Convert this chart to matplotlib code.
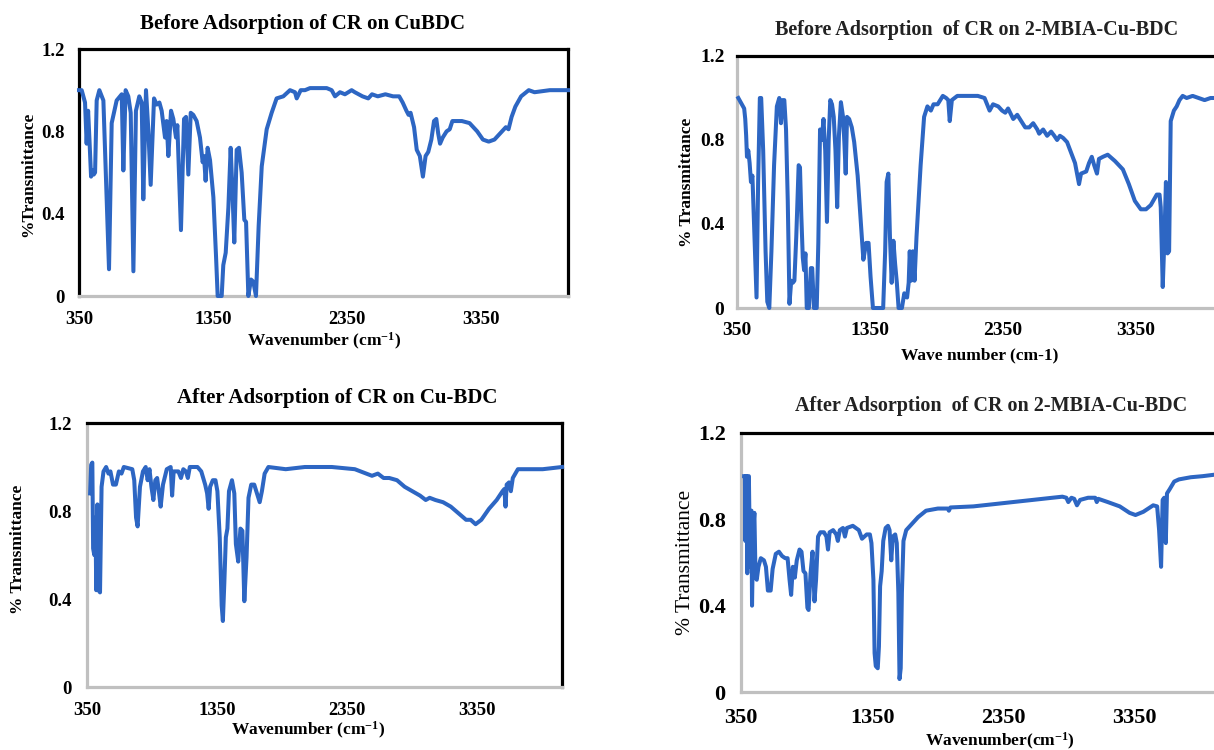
import numpy as np
import matplotlib.pyplot as plt

plt.rcParams['font.family'] = 'Liberation Serif'
plt.rcParams['font.weight'] = 'bold'
plt.rcParams['mathtext.fontset'] = 'custom'
plt.rcParams['mathtext.rm'] = 'Liberation Serif:bold'
plt.rcParams['mathtext.default'] = 'rm'

W, H = 1214, 750
line_blue = '#2d66c3'
frame_grey = '#c0c0c0'

x_ticks = [350, 1350, 2350, 3350]
y_ticks = [0, 0.4, 0.8, 1.2]
y_ticklabels = ['0', '0.4', '0.8', '1.2']

# (wavenumber, transmittance)
before_cubdc = [
    (350, 1.00), (370, 1.00), (395, 0.94), (407, 0.74), (418, 0.90), (428, 0.76),
    (440, 0.58), (450, 0.61), (460, 0.59), (470, 0.60), (482, 0.95), (502, 1.00),
    (532, 0.95), (574, 0.13), (594, 0.84), (631, 0.95), (669, 0.98), (681, 0.61),
    (698, 1.00), (718, 0.97), (736, 0.89), (756, 0.12), (775, 0.90), (800, 0.97),
    (818, 0.94), (830, 0.47), (850, 1.00), (868, 0.80), (885, 0.54), (910, 0.96),
    (930, 0.93), (950, 0.94), (967, 0.90), (992, 0.77), (1004, 0.85), (1017, 0.68),
    (1037, 0.90), (1054, 0.86), (1074, 0.77), (1084, 0.83), (1111, 0.32), (1134, 0.86),
    (1149, 0.87), (1166, 0.59), (1184, 0.89), (1203, 0.88), (1228, 0.85), (1253, 0.77),
    (1273, 0.65), (1283, 0.68), (1295, 0.56), (1310, 0.72), (1328, 0.66), (1353, 0.48),
    (1373, 0.19), (1385, 0.00), (1415, 0.00), (1427, 0.15), (1445, 0.21), (1465, 0.43),
    (1482, 0.72), (1494, 0.53), (1509, 0.26), (1527, 0.71), (1544, 0.72), (1564, 0.60),
    (1584, 0.37), (1597, 0.36), (1614, 0.00), (1634, 0.08), (1651, 0.07), (1671, 0.00),
    (1691, 0.34), (1714, 0.63), (1751, 0.81), (1788, 0.89), (1825, 0.96), (1875, 0.97),
    (1925, 1.00), (1962, 0.99), (1975, 0.96), (2005, 1.00), (2037, 1.00), (2074, 1.01),
    (2199, 1.01), (2236, 1.00), (2261, 0.97), (2298, 0.99), (2335, 0.98), (2385, 1.00),
    (2409, 0.99), (2466, 0.97), (2509, 0.96), (2537, 0.98), (2580, 0.97), (2637, 0.98),
    (2694, 0.97), (2740, 0.97), (2766, 0.94), (2794, 0.90), (2810, 0.88), (2825, 0.89),
    (2851, 0.82), (2871, 0.71), (2894, 0.68), (2917, 0.58), (2937, 0.68), (2957, 0.70),
    (2980, 0.76), (3000, 0.85), (3017, 0.86), (3031, 0.79), (3045, 0.74), (3065, 0.77),
    (3094, 0.80), (3117, 0.81), (3137, 0.85), (3165, 0.85), (3208, 0.85), (3265, 0.84),
    (3322, 0.80), (3365, 0.76), (3408, 0.75), (3451, 0.76), (3493, 0.79), (3536, 0.82),
    (3556, 0.81), (3579, 0.87), (3607, 0.92), (3650, 0.97), (3707, 1.00), (3750, 0.99),
    (3864, 1.00), (4000, 1.00),
]

before_mbia = [
    (360, 1.00), (404, 0.95), (412, 0.90), (419, 0.82), (425, 0.72), (435, 0.75),
    (445, 0.69), (455, 0.60), (466, 0.63), (476, 0.44), (486, 0.24), (497, 0.05),
    (509, 0.60), (522, 1.00), (532, 1.00), (547, 0.75), (565, 0.27), (578, 0.03),
    (593, 0.00), (609, 0.27), (629, 0.68), (650, 0.96), (668, 1.00), (681, 0.88),
    (693, 0.99), (706, 0.99), (719, 0.85), (732, 0.51), (745, 0.02), (758, 0.13),
    (770, 0.12), (782, 0.13), (796, 0.34), (814, 0.68), (824, 0.67), (834, 0.44),
    (845, 0.24), (855, 0.18), (865, 0.26), (875, 0.00), (891, 0.00), (906, 0.19),
    (916, 0.19), (929, 0.00), (950, 0.00), (962, 0.31), (975, 0.85), (988, 0.80),
    (1001, 0.90), (1014, 0.75), (1027, 0.41), (1040, 0.80), (1052, 0.99), (1065, 0.97),
    (1078, 0.91), (1091, 0.75), (1104, 0.48), (1117, 0.82), (1132, 0.98), (1148, 0.91),
    (1158, 0.79), (1168, 0.64), (1178, 0.91), (1194, 0.90), (1214, 0.86), (1232, 0.79),
    (1258, 0.63), (1283, 0.40), (1301, 0.23), (1322, 0.31), (1340, 0.31), (1355, 0.15),
    (1373, 0.00), (1450, 0.00), (1465, 0.27), (1476, 0.60), (1489, 0.64), (1501, 0.34),
    (1514, 0.12), (1527, 0.32), (1540, 0.21), (1553, 0.12), (1566, 0.00), (1591, 0.00),
    (1609, 0.07), (1630, 0.05), (1642, 0.12), (1650, 0.27), (1660, 0.13), (1673, 0.27),
    (1686, 0.13), (1701, 0.34), (1732, 0.68), (1758, 0.91), (1783, 0.96), (1809, 0.94),
    (1829, 0.97), (1860, 0.97), (1899, 1.01), (1924, 1.00), (1940, 0.99), (1951, 0.89),
    (1967, 0.99), (2008, 1.01), (2162, 1.01), (2213, 1.00), (2251, 0.94), (2277, 0.97),
    (2316, 0.96), (2345, 0.94), (2369, 0.93), (2390, 0.95), (2429, 0.90), (2459, 0.92),
    (2489, 0.89), (2519, 0.86), (2549, 0.86), (2579, 0.88), (2610, 0.85), (2624, 0.83),
    (2654, 0.85), (2684, 0.82), (2714, 0.84), (2738, 0.82), (2759, 0.80), (2780, 0.82),
    (2804, 0.81), (2834, 0.79), (2864, 0.74), (2894, 0.69), (2924, 0.59), (2939, 0.64),
    (2978, 0.65), (2999, 0.69), (3020, 0.72), (3038, 0.68), (3059, 0.64), (3074, 0.71),
    (3104, 0.72), (3140, 0.73), (3194, 0.70), (3254, 0.66), (3299, 0.59), (3344, 0.51),
    (3389, 0.47), (3428, 0.47), (3464, 0.49), (3509, 0.54), (3530, 0.54), (3539, 0.48),
    (3554, 0.10), (3566, 0.32), (3578, 0.60), (3590, 0.26), (3602, 0.27), (3614, 0.89),
    (3638, 0.94), (3659, 0.96), (3680, 0.99), (3704, 1.01), (3734, 1.00), (3779, 1.01),
    (3824, 1.00), (3869, 0.99), (3914, 1.00), (4000, 1.00),
]

after_cubdc = [
    (374, 0.88), (382, 1.01), (391, 1.02), (397, 0.63), (406, 0.60), (415, 0.77),
    (421, 0.44), (430, 0.83), (438, 0.44), (450, 0.43), (462, 0.91), (477, 0.98),
    (497, 1.00), (515, 0.97), (530, 0.98), (550, 0.92), (572, 0.92), (595, 0.98),
    (615, 0.97), (633, 1.00), (698, 0.99), (713, 0.94), (727, 0.77), (739, 0.73),
    (757, 0.91), (780, 0.98), (801, 1.00), (816, 0.94), (830, 0.99), (845, 0.91),
    (860, 0.85), (875, 0.94), (889, 0.95), (904, 0.88), (916, 0.82), (934, 0.92),
    (963, 0.99), (993, 1.00), (1004, 0.87), (1016, 0.98), (1052, 0.98), (1072, 0.95),
    (1090, 0.99), (1110, 0.98), (1125, 0.95), (1140, 1.00), (1199, 1.00), (1228, 0.98),
    (1258, 0.92), (1273, 0.88), (1285, 0.81), (1296, 0.91), (1317, 0.94), (1337, 0.94),
    (1352, 0.89), (1370, 0.68), (1385, 0.37), (1394, 0.30), (1405, 0.47), (1417, 0.68),
    (1429, 0.72), (1441, 0.89), (1464, 0.94), (1482, 0.88), (1494, 0.65), (1512, 0.57),
    (1529, 0.72), (1544, 0.71), (1559, 0.39), (1576, 0.59), (1591, 0.86), (1612, 0.92),
    (1635, 0.92), (1656, 0.88), (1677, 0.84), (1694, 0.89), (1715, 0.97), (1744, 1.00),
    (1877, 0.99), (2024, 1.00), (2231, 1.00), (2408, 0.99), (2496, 0.97), (2540, 0.96),
    (2585, 0.97), (2629, 0.95), (2673, 0.95), (2732, 0.94), (2791, 0.91), (2850, 0.89),
    (2909, 0.87), (2953, 0.85), (2983, 0.86), (3027, 0.85), (3086, 0.84), (3145, 0.82),
    (3204, 0.79), (3263, 0.76), (3298, 0.76), (3336, 0.74), (3380, 0.76), (3439, 0.81),
    (3498, 0.85), (3543, 0.89), (3557, 0.90), (3566, 0.82), (3575, 0.92), (3593, 0.93),
    (3607, 0.89), (3622, 0.95), (3661, 0.99), (3734, 0.99), (3852, 0.99), (4000, 1.00),
]

after_mbia = [
    (374, 1.00), (380, 1.00), (383, 0.70), (386, 1.00), (392, 1.00), (398, 0.55),
    (404, 1.00), (410, 1.00), (419, 0.58), (425, 0.84), (430, 0.84), (434, 0.40),
    (443, 0.75), (452, 0.83), (461, 0.53), (470, 0.52), (483, 0.58), (501, 0.62),
    (525, 0.61), (540, 0.58), (555, 0.47), (576, 0.47), (591, 0.57), (615, 0.64),
    (639, 0.65), (663, 0.63), (687, 0.62), (705, 0.62), (720, 0.52), (732, 0.45),
    (745, 0.58), (760, 0.53), (775, 0.61), (796, 0.66), (811, 0.65), (826, 0.56),
    (841, 0.55), (856, 0.39), (865, 0.38), (880, 0.55), (895, 0.65), (910, 0.42),
    (922, 0.52), (937, 0.72), (955, 0.74), (982, 0.74), (1001, 0.72), (1013, 0.66),
    (1025, 0.74), (1052, 0.75), (1076, 0.73), (1088, 0.70), (1103, 0.75), (1127, 0.76),
    (1142, 0.72), (1157, 0.76), (1202, 0.77), (1248, 0.75), (1272, 0.71), (1290, 0.72),
    (1308, 0.73), (1332, 0.73), (1344, 0.69), (1359, 0.52), (1368, 0.18), (1377, 0.12),
    (1392, 0.11), (1401, 0.21), (1410, 0.49), (1422, 0.56), (1434, 0.70), (1452, 0.76),
    (1470, 0.77), (1482, 0.75), (1495, 0.61), (1507, 0.72), (1525, 0.73), (1537, 0.69),
    (1549, 0.46), (1558, 0.06), (1567, 0.11), (1576, 0.46), (1588, 0.70), (1609, 0.75),
    (1654, 0.78), (1699, 0.81), (1760, 0.84), (1850, 0.85), (1925, 0.85), (1934, 0.84),
    (1946, 0.855), (2121, 0.86), (2272, 0.87), (2422, 0.88), (2573, 0.89), (2723, 0.90),
    (2799, 0.905), (2829, 0.90), (2844, 0.88), (2868, 0.90), (2889, 0.895), (2910, 0.865),
    (2934, 0.89), (2995, 0.90), (3049, 0.90), (3061, 0.88), (3073, 0.895), (3145, 0.88),
    (3236, 0.86), (3311, 0.83), (3356, 0.82), (3416, 0.835), (3491, 0.865), (3521, 0.86),
    (3536, 0.75), (3551, 0.58), (3563, 0.89), (3575, 0.90), (3587, 0.69), (3596, 0.92),
    (3617, 0.94), (3651, 0.975), (3687, 0.985), (3777, 0.995), (3868, 1.00), (4000, 1.01),
]


def pos(x, y):
    # pixel position -> figure fraction
    return x / W, 1 - y / H


def panel(box, spectrum, tick_size, xpad, ypad):
    left, top, right, bottom = box
    ax = fig.add_axes([left / W, 1 - bottom / H, (right - left) / W, (bottom - top) / H])
    wn, t = np.array(spectrum).T
    ax.plot(wn, t, color=line_blue, lw=2.9, solid_joinstyle='round',
            clip_on=False, zorder=3)
    ax.set_xlim(350, 4000)
    ax.set_ylim(0, 1.2)
    ax.set_xticks(x_ticks)
    ax.set_yticks(y_ticks)
    ax.set_yticklabels(y_ticklabels)
    ax.tick_params(length=0, labelsize=tick_size)
    ax.tick_params(axis='x', pad=xpad)
    ax.tick_params(axis='y', pad=ypad)
    for side in ['top', 'right']:
        ax.spines[side].set_color('black')
        ax.spines[side].set_linewidth(2.3)
    for side in ['left', 'bottom']:
        ax.spines[side].set_color(frame_grey)
        ax.spines[side].set_linewidth(2.3)
    return ax


fig = plt.figure(figsize=(W / 100, H / 100), dpi=100)

ax1 = panel((79, 49, 568, 296), before_cubdc, 13.5, 11, 10)
ax1.spines['left'].set_color('black')

ax2 = panel((737, 56, 1222, 308), before_mbia, 14, 10, 9)
ax2.spines['right'].set_visible(False)

ax3 = panel((87, 423, 562, 687), after_cubdc, 13.5, 10.5, 11)

ax4 = panel((741, 433, 1220, 692), after_mbia, 16, 11.5, 11)
ax4.spines['right'].set_visible(False)

# panel titles
fig.text(*pos(302, 24), 'Before Adsorption of CR on CuBDC', fontsize=15,
         ha='center', va='center')
fig.text(*pos(977, 30), 'Before Adsorption  of CR on 2-MBIA-Cu-BDC', fontsize=14.5,
         ha='center', va='center', color='#222222')
fig.text(*pos(337, 398), 'After Adsorption of CR on Cu-BDC', fontsize=15,
         ha='center', va='center')
fig.text(*pos(991, 406), 'After Adsorption  of CR on 2-MBIA-Cu-BDC', fontsize=14.5,
         ha='center', va='center', color='#222222')

# axis titles
fig.text(*pos(28, 174), '%Transmittance', fontsize=12.5, rotation=90,
         ha='center', va='center')
fig.text(*pos(687, 182), '% Transmittance', fontsize=12.5, rotation=90,
         ha='center', va='center')
fig.text(*pos(18, 549), '% Transmittance', fontsize=12.5, rotation=90,
         ha='center', va='center')
fig.text(*pos(686, 562), '% Transmittance', fontsize=15.5, rotation=90,
         ha='center', va='center', fontweight='normal')

fig.text(*pos(324, 341), r'Wavenumber (cm$^{-1}$)', fontsize=12.5,
         ha='center', va='center')
fig.text(*pos(980, 355), 'Wave number (cm-1)', fontsize=12.5,
         ha='center', va='center')
fig.text(*pos(308, 730), r'Wavenumber (cm$^{-1}$)', fontsize=12.5,
         ha='center', va='center')
fig.text(*pos(1000, 741), r'Wavenumber(cm$^{-1}$)', fontsize=12.5,
         ha='center', va='center')

fig.savefig('out.png', dpi=100, facecolor='white')
